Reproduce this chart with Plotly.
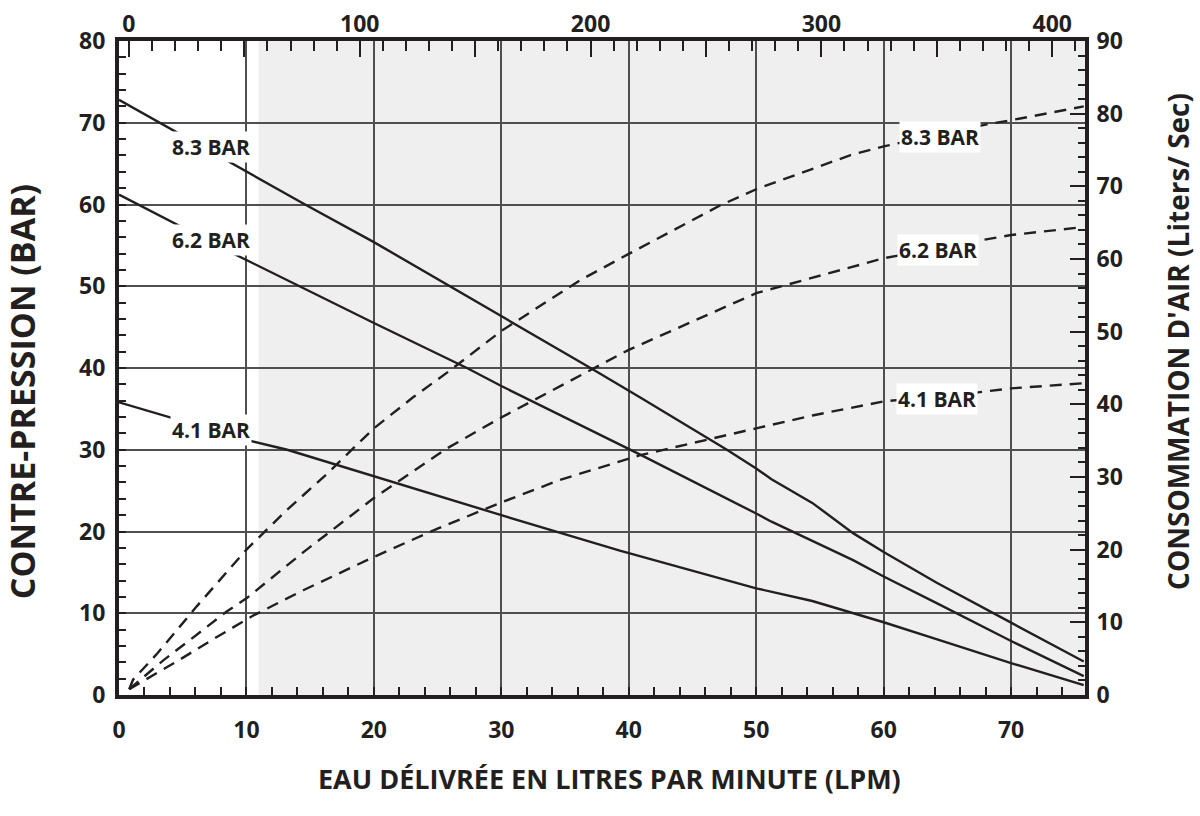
import plotly.graph_objects as go

# Back pressure (bar) versus water delivered (LPM), one curve per inlet air pressure
lpm_83 = [0, 8.2, 14.6, 20, 26, 30, 37, 41, 47.7, 50, 51.2, 54.4, 57.6, 60, 64.2, 70, 75.7]
bar_83 = [72.8, 65.6, 60, 55.4, 50, 46.3, 40, 36.3, 30, 27.7, 26.4, 23.5, 19.8, 17.5, 13.7, 8.85, 4.1]

lpm_62 = [0, 8.45, 20, 27.3, 30, 40.9, 50, 51.2, 57.6, 60, 64.2, 70, 75.7]
bar_62 = [61.2, 54.4, 45.5, 40, 37.8, 29.4, 22.2, 21.2, 16.5, 14.5, 11.2, 6.6, 2.3]

lpm_41 = [0, 10, 13.2, 22, 30, 39.3, 50, 54.4, 57.6, 60, 64.2, 70, 75.7]
bar_41 = [35.8, 31.2, 30, 25.8, 22.0, 17.65, 13.05, 11.5, 10.0, 8.9, 6.8, 3.9, 1.2]

# Air consumption (litres/sec) versus water delivered (LPM)
air_lpm_83 = [0.8, 1.1, 3.0, 5.0, 6.1, 10, 13.2, 16.3, 20, 23.1, 26, 30, 36.2, 40, 47.2, 50, 57.4, 60, 68, 70, 75.7]
air_83 = [0.8, 2.1, 5.7, 9.9, 12.2, 20, 25.5, 30.4, 36.7, 41, 44.7, 50.1, 57.1, 60.7, 67.4, 69.6, 74.3, 75.5, 78.5, 79.1, 81.0]

air_lpm_62 = [0.8, 2.3, 3.5, 6.1, 8.45, 10, 14.5, 20, 25.7, 30.1, 37, 40, 50, 57.4, 60, 67.7, 70, 75.7]
air_62 = [0.8, 3.0, 4.8, 8.3, 11.5, 13.3, 19.7, 27.1, 33.9, 38.3, 44.7, 47.5, 55.3, 58.9, 60.1, 62.6, 63.3, 64.4]

air_lpm_41 = [0.8, 2.4, 4.8, 7.5, 10.5, 14.5, 20, 25, 30, 34.6, 40.9, 50, 54.5, 60, 67.4, 70, 75.7]
air_41 = [0.8, 2.4, 4.9, 7.8, 10.9, 14.45, 19.0, 22.9, 26.5, 29.6, 33.0, 36.7, 38.5, 40.4, 41.65, 42.2, 42.9]

curve_labels = ["8.3 BAR", "6.2 BAR", "4.1 BAR"]

# Axis scales
lpm_range = [0, 75.8]
top_range = [-4.3, 414.2]
top_ticks = [0, 50, 100, 150, 200, 250, 300, 350, 400]
top_text = ["0", "", "100", "", "200", "", "300", "", "400"]
bar_range = [0, 80]
air_range = [0, 90]
shade_start = 10.95

INK = "#231f20"
GRID = "#4f4f4f"
FONT = "Open Sans"

fig = go.Figure()

solid = dict(color=INK, width=2.4)
dashed = dict(color=INK, width=2.4, dash="12px,8px")

for xs, ys in [(lpm_83, bar_83), (lpm_62, bar_62), (lpm_41, bar_41)]:
    fig.add_trace(go.Scatter(x=xs, y=ys, mode="lines", line=solid,
                             xaxis="x", yaxis="y", showlegend=False, hoverinfo="skip"))

for xs, ys in [(air_lpm_83, air_83), (air_lpm_62, air_62), (air_lpm_41, air_41)]:
    fig.add_trace(go.Scatter(x=xs, y=ys, mode="lines", line=dashed,
                             xaxis="x", yaxis="y2", showlegend=False, hoverinfo="skip"))

# empty trace so the top scale gets its own subplot
fig.add_trace(go.Scatter(x=[None], y=[None], xaxis="x2", yaxis="y", showlegend=False,
                         hoverinfo="skip"))

tickfont = dict(family=FONT, size=23, color=INK, weight=700)

fig.update_layout(
    width=1200, height=816,
    margin=dict(l=119, r=115, t=41, b=121),
    paper_bgcolor="white", plot_bgcolor="white",
    font=dict(family=FONT, color=INK, weight=700),
    xaxis=dict(
        range=lpm_range, dtick=10, tick0=0, automargin=False,
        showgrid=True, gridcolor=GRID, gridwidth=1.6,
        ticks="inside", ticklen=8, tickwidth=1.6, tickcolor=INK,
        minor=dict(dtick=2, ticks="inside", ticklen=8, tickwidth=1.6, tickcolor=INK, showgrid=False),
        showline=True, linecolor=INK, linewidth=4,
        tickfont=tickfont, zeroline=False, ticklabelstandoff=11,
    ),
    xaxis2=dict(
        range=top_range, overlaying="x", side="top", anchor="y", automargin=False,
        tickmode="array", tickvals=top_ticks, ticktext=top_text,
        showgrid=False,
        ticks="inside", ticklen=16, tickwidth=1.6, tickcolor=INK,
        minor=dict(dtick=10, tick0=0, ticks="inside", ticklen=10, tickwidth=1.6, tickcolor=INK, showgrid=False),
        showline=True, linecolor=INK, linewidth=4,
        tickfont=tickfont, zeroline=False, ticklabelstandoff=-4,
    ),
    yaxis=dict(
        range=bar_range, dtick=10, tick0=0, automargin=False,
        showgrid=True, gridcolor=GRID, gridwidth=1.6,
        ticks="inside", ticklen=7, tickwidth=1.6, tickcolor=INK,
        minor=dict(dtick=2, ticks="inside", ticklen=7, tickwidth=1.6, tickcolor=INK, showgrid=False),
        showline=True, linecolor=INK, linewidth=4,
        tickfont=tickfont, zeroline=False, ticklabelstandoff=5,
    ),
    yaxis2=dict(
        range=air_range, dtick=10, tick0=0, overlaying="y", side="right", anchor="x",
        automargin=False, showgrid=False,
        ticks="inside", ticklen=15, tickwidth=1.6, tickcolor=INK,
        minor=dict(dtick=2, ticks="inside", ticklen=7, tickwidth=1.6, tickcolor=INK, showgrid=False),
        showline=True, linecolor=INK, linewidth=4,
        tickfont=tickfont, zeroline=False, ticklabelstandoff=3,
    ),
)

# grey band over the working range
fig.add_shape(type="rect", xref="x", yref="paper", x0=shade_start, x1=lpm_range[1],
              y0=0, y1=1, fillcolor="#efefef", line=dict(width=0), layer="below")

label_font = dict(family=FONT, size=21, color=INK, weight=700)

# curve labels on the pressure lines (left) and air lines (right)
left_pos = [(7.2, 67.0), (7.2, 55.7), (7.2, 32.4)]
right_pos = [(64.4, 76.8), (64.3, 61.2), (64.2, 40.8)]
for text, (lx, ly) in zip(curve_labels, left_pos):
    fig.add_annotation(x=lx, y=ly, xref="x", yref="y", text=text, showarrow=False,
                       font=label_font, bgcolor="white", borderpad=1)
for text, (rx, ry) in zip(curve_labels, right_pos):
    fig.add_annotation(x=rx, y=ry, xref="x", yref="y2", text=text, showarrow=False,
                       font=label_font, bgcolor="white", borderpad=1)

fig.add_annotation(text="EAU DÉLIVRÉE EN LITRES PAR MINUTE (LPM)", xref="paper", yref="paper",
                   x=0.508, y=-0.127, showarrow=False,
                   font=dict(family=FONT, size=27, color=INK, weight=700),
                   xanchor="center", yanchor="middle")
fig.add_annotation(text="CONTRE-PRESSION (BAR)", xref="paper", yref="paper",
                   x=-0.1004, y=0.463, showarrow=False,
                   font=dict(family=FONT, size=34, color=INK, weight=700), textangle=-90,
                   xanchor="center", yanchor="middle")
fig.add_annotation(text="CONSOMMATION D'AIR (Liters/ Sec)", xref="paper", yref="paper",
                   x=1.096, y=0.541, showarrow=False,
                   font=dict(family=FONT, size=28, color=INK, weight=700), textangle=-90,
                   xanchor="center", yanchor="middle")

fig.write_html("out.html")
